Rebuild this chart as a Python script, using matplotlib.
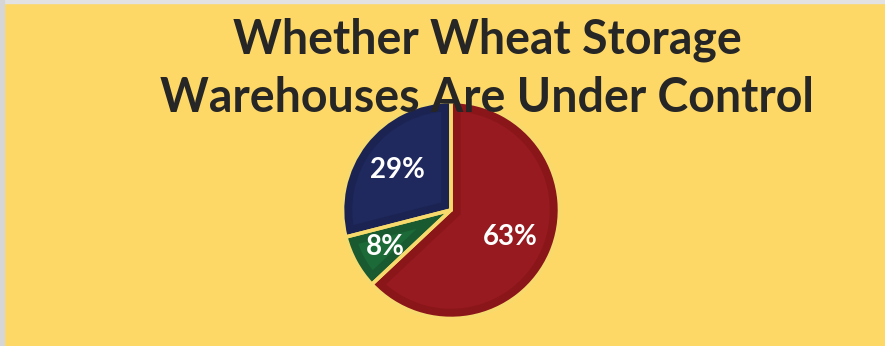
import matplotlib
matplotlib.use("Agg")
import matplotlib.pyplot as plt
from matplotlib.patches import Rectangle

plt.rcParams['font.family'] = ['Lato', 'DejaVu Sans']

# Data
title_lines = ["Whether Wheat Storage", "Warehouses Are Under Control"]
shares = [63, 8, 29]
labels = ["63%", "8%", "29%"]
outer_colors = ["#8A161A", "#1A5A30", "#1B2352"]
inner_colors = ["#961A1F", "#1B6A37", "#1F295D"]
label_pos = [(510, 237), (385, 247), (397, 170)]

bg = "#FDD867"
W, H = 885, 346

fig = plt.figure(figsize=(W / 100, H / 100), dpi=100)
fig.patch.set_facecolor(bg)
ax = fig.add_axes([0, 0, 1, 1])

# light grey frame on top and left
ax.add_patch(Rectangle((0, H - 3), W, 3, color="#E2E2E2", zorder=5))
ax.add_patch(Rectangle((0, 0), 4, H, color="#D6D6D6", zorder=5))

center = (451, H - 210)
radius = 108.5

# pie with a darker bevel ring drawn as an inner (clipped) stroke
wedges, _ = ax.pie(shares, colors=inner_colors, startangle=90, counterclock=False,
                   center=center, radius=radius, frame=True,
                   wedgeprops=dict(linewidth=0))
for w, c in zip(wedges, outer_colors):
    w.set_edgecolor(c)
    w.set_linewidth(14)
    w.set_clip_on(True)
    w.set_clip_path(w)

# yellow separators
seps, _ = ax.pie(shares, colors=["none"] * 3, startangle=90, counterclock=False,
                 center=center, radius=radius, frame=True,
                 wedgeprops=dict(linewidth=2.6, edgecolor="#F8DA6C", facecolor="none"))

ax.set_xlim(0, W)
ax.set_ylim(0, H)
ax.set_aspect("equal")
ax.axis("off")

for lab, (x, y) in zip(labels, label_pos):
    ax.text(x, H - y, lab, ha="center", va="center", color="white",
            fontsize=20, fontweight="bold", zorder=6)

ax.text(487, H - 53, title_lines[0], ha="center", va="baseline",
        color="#262626", fontsize=33.5, fontweight="bold", zorder=7)
ax.text(487, H - 112, title_lines[1], ha="center", va="baseline",
        color="#262626", fontsize=33.5, fontweight="bold", zorder=7)

fig.savefig("out.png", dpi=100, facecolor=bg)
